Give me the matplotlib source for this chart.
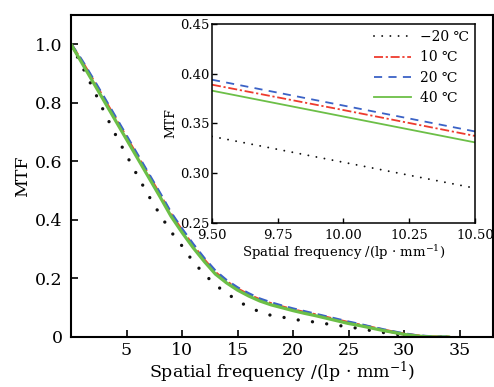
import matplotlib
matplotlib.use("Agg")
import matplotlib.pyplot as plt
import numpy as np

plt.rcParams['font.family'] = ['DejaVu Serif', 'DejaVu Sans']
plt.rcParams['mathtext.fontset'] = 'dejavuserif'

freq = [0, 1, 2, 3, 4, 5, 6, 7, 8, 9, 10, 11, 12, 13, 14, 15, 16, 17, 18, 19,
        20, 21, 22, 23, 24, 25, 26, 27, 28, 29, 30, 31, 32, 33, 34]
mtf_m20 = [1.0, 0.925, 0.848, 0.768, 0.692, 0.621, 0.550, 0.482, 0.419, 0.360,
           0.311, 0.257, 0.215, 0.178, 0.150, 0.124, 0.102, 0.086, 0.074, 0.068,
           0.061, 0.055, 0.051, 0.045, 0.040, 0.034, 0.029, 0.022, 0.016, 0.010,
           0.006, 0.003, 0.001, 0.0, 0.0]
mtf_10 = [1.0, 0.940, 0.876, 0.811, 0.746, 0.681, 0.616, 0.551, 0.486, 0.419,
          0.3635, 0.311, 0.263, 0.220, 0.189, 0.164, 0.144, 0.127, 0.114, 0.103,
          0.093, 0.084, 0.076, 0.067, 0.058, 0.049, 0.041, 0.033, 0.025, 0.017,
          0.010, 0.005, 0.001, 0.0, 0.0]
mtf_20 = [1.0, 0.943, 0.880, 0.816, 0.751, 0.686, 0.621, 0.556, 0.491, 0.424,
          0.368, 0.316, 0.268, 0.225, 0.193, 0.168, 0.148, 0.130, 0.117, 0.106,
          0.096, 0.087, 0.078, 0.069, 0.060, 0.051, 0.043, 0.034, 0.026, 0.018,
          0.011, 0.005, 0.002, 0.0, 0.0]
mtf_40 = [1.0, 0.935, 0.870, 0.805, 0.740, 0.675, 0.610, 0.545, 0.480, 0.413,
          0.357, 0.305, 0.258, 0.215, 0.185, 0.160, 0.140, 0.123, 0.110, 0.100,
          0.090, 0.081, 0.073, 0.064, 0.055, 0.046, 0.039, 0.031, 0.023, 0.016,
          0.009, 0.004, 0.001, 0.0, 0.0]

inset_freq = [9.5, 10.0, 10.5]
inset_m20 = [0.337, 0.311, 0.285]
inset_10 = [0.389, 0.3635, 0.3375]
inset_20 = [0.394, 0.368, 0.342]
inset_40 = [0.383, 0.357, 0.331]

labels = ['\u221220 \u2103', '10 \u2103', '20 \u2103', '40 \u2103']
c_black = '#111111'
c_red = '#ee3b2e'
c_blue = '#3b62c6'
c_green = '#6cbf47'

fig = plt.figure(figsize=(4.94, 3.87), dpi=100)
ax = fig.add_axes([0.1437, 0.1292, 0.998 - 0.1437, 0.9612 - 0.1292])

ax.plot(freq, mtf_m20, color=c_black, lw=2.4, linestyle=(0, (0.01, 4.3)),
        dash_capstyle='round')
ax.plot(freq, mtf_10, color=c_red, lw=2.2, linestyle=(0, (4, 1.2, 1, 1.2)))
ax.plot(freq, mtf_20, color=c_blue, lw=2.2, linestyle=(0, (3, 2)))
ax.plot(freq, mtf_40, color=c_green, lw=2.3)

ax.set_xlim(0, 38)
ax.set_ylim(0, 1.1)
ax.set_xticks([5, 10, 15, 20, 25, 30, 35])
ax.set_yticks([0, 0.2, 0.4, 0.6, 0.8, 1.0])
ax.set_yticklabels(['0', '0.2', '0.4', '0.6', '0.8', '1.0'])
ax.tick_params(direction='in', length=5, width=1.2, labelsize=12.5, top=False, right=False)
ax.tick_params(axis='y', pad=6)
for s in ax.spines.values():
    s.set_linewidth(1.5)
ax.set_xlabel('Spatial frequency /(lp \u00b7 mm$^{-1}$)', fontsize=12.5, labelpad=1)
ax.set_ylabel('MTF', fontsize=12.5, labelpad=3)

ins = fig.add_axes([0.4291, 0.4238, 0.9615 - 0.4291, 0.938 - 0.4238])
ins.plot(inset_freq, inset_m20, color=c_black, lw=1.4, linestyle=(0, (0.01, 4.2)),
         dash_capstyle='round', label=labels[0])
ins.plot(inset_freq, inset_10, color=c_red, lw=1.3, linestyle=(0, (5, 1.5, 1.2, 1.5)),
         label=labels[1])
ins.plot(inset_freq, inset_20, color=c_blue, lw=1.3, linestyle=(0, (4.5, 3.5)),
         label=labels[2])
ins.plot(inset_freq, inset_40, color=c_green, lw=1.3, label=labels[3])
ins.set_xlim(9.5, 10.5)
ins.set_ylim(0.25, 0.45)
ins.set_xticks([9.5, 9.75, 10.0, 10.25, 10.5])
ins.set_xticklabels(['9.50', '9.75', '10.00', '10.25', '10.50'])
ins.set_yticks([0.25, 0.30, 0.35, 0.40, 0.45])
ins.set_yticklabels(['0.25', '0.30', '0.35', '0.40', '0.45'])
ins.tick_params(direction='in', length=3.5, width=1.0, labelsize=9.5, top=False, right=False, pad=2)
ins.tick_params(axis='x', pad=4)
for s in ins.spines.values():
    s.set_linewidth(1.1)
ins.set_xlabel('Spatial frequency /(lp \u00b7 mm$^{-1}$)', fontsize=9.5, labelpad=1)
ins.set_ylabel('MTF', fontsize=9, labelpad=2)
leg = ins.legend(loc='upper right', frameon=False, fontsize=10, handlelength=2.7,
                 handletextpad=0.6, labelspacing=0.45, borderaxespad=0.05)

fig.savefig('out.png', dpi=100)
